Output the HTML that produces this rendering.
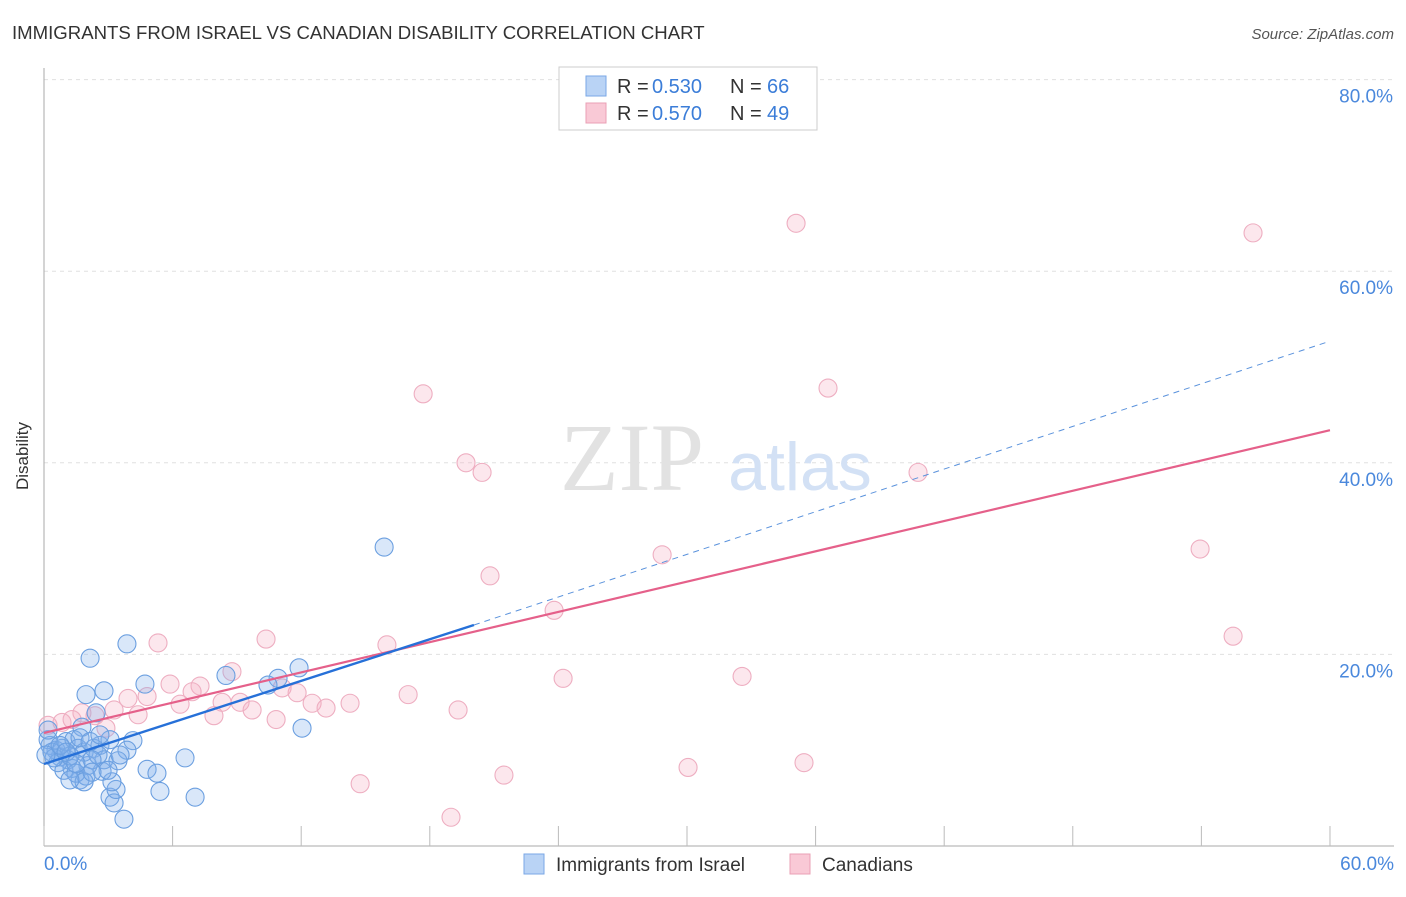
<!DOCTYPE html>
<html><head><meta charset="utf-8"><style>
body{margin:0;background:#fff;font-family:"Liberation Sans",sans-serif}
svg text{font-family:"Liberation Sans",sans-serif}
</style></head><body>
<svg id="chart" width="1406" height="892" xmlns="http://www.w3.org/2000/svg">
<text x="12" y="39" font-size="18.6" fill="#333">IMMIGRANTS FROM ISRAEL VS CANADIAN DISABILITY CORRELATION CHART</text>
<text x="1394" y="39" font-size="15" fill="#555" text-anchor="end" font-style="italic">Source: ZipAtlas.com</text>
<text x="28" y="456" font-size="17" fill="#333" text-anchor="middle" transform="rotate(-90 28 456)">Disability</text>
<g id="grid"></g>
<text x="632" y="490" font-size="96" fill="#e2e2e2" text-anchor="middle" style="font-family:'Liberation Serif',serif">ZIP</text>
<text x="800" y="490" font-size="68" fill="#d3e1f5" text-anchor="middle">atlas</text>
<g id="pts"></g>
<g id="lines"></g>
<g>
<rect x="559" y="67" width="258" height="63" fill="#fff" stroke="#ccc"/>
<rect x="586" y="76" width="20" height="20" fill="#b9d3f5" stroke="#7aa7e6"/>
<rect x="586" y="103" width="20" height="20" fill="#f9c9d6" stroke="#eaa0b5"/>
<text y="93" font-size="20" fill="#333"><tspan x="617">R =</tspan><tspan x="652" fill="#3b7dd8">0.530</tspan><tspan x="730">N =</tspan><tspan x="767" fill="#3b7dd8">66</tspan></text>
<text y="120" font-size="20" fill="#333"><tspan x="617">R =</tspan><tspan x="652" fill="#3b7dd8">0.570</tspan><tspan x="730">N =</tspan><tspan x="767" fill="#3b7dd8">49</tspan></text>
</g>
<g>
<rect x="524" y="854" width="20" height="20" fill="#b9d3f5" stroke="#7aa7e6"/>
<text x="556" y="871" font-size="19" fill="#333">Immigrants from Israel</text>
<rect x="790" y="854" width="20" height="20" fill="#f9c9d6" stroke="#eaa0b5"/>
<text x="822" y="871" font-size="19" fill="#333">Canadians</text>
</g>
</svg>
<script>
const xTicks=[0,60];
const yTicks=[20,40,60,80];
const blueX=[15.87,3.87,2.15,4.71,2.80,1.96,8.49,10.92,11.90,10.45,12.04,2.43,1.77,4.15,3.87,6.58,4.81,5.27,5.41,7.05,3.08,3.27,3.36,3.17,3.73,1.68,1.96,2.71,2.05,1.31,1.12,0.75,0.56,0.28,0.19,0.37,0.84,1.03,1.40,1.59,1.87,2.33,2.61,2.80,3.45,2.52,2.24,0.65,0.93,1.49,1.21,0.47,0.09,0.19,0.75,1.03,1.68,2.15,3.08,3.55,2.61,2.99,1.87,2.24,1.21,1.49];
const blueY=[31.2,21.1,19.6,16.9,16.2,15.8,17.8,17.5,18.6,16.8,12.3,13.9,12.4,11.0,10.0,9.2,8.0,7.6,5.7,5.1,5.1,4.5,5.9,6.7,2.8,6.9,7.3,7.8,8.4,8.1,9.0,9.3,10.0,10.5,11.1,9.8,10.2,10.9,11.1,10.2,9.8,10.2,10.5,9.0,8.9,9.5,9.0,8.7,7.9,7.6,9.4,9.2,9.5,12.1,10.5,9.8,11.3,10.9,11.1,9.5,11.6,7.9,6.7,7.7,6.9,8.6];
const pinkX=[35.09,56.41,17.69,36.58,19.69,20.44,40.78,53.94,28.84,20.81,23.80,55.48,10.36,5.32,16.0,8.77,24.22,32.57,5.88,7.28,3.92,4.81,6.91,16.99,11.81,11.11,6.35,8.31,9.15,12.51,14.28,13.16,19.32,3.27,4.39,7.93,9.71,10.83,2.38,1.77,0.84,1.31,2.89,0.19,14.75,21.46,30.05,35.46,18.99];
const pinkY=[65.0,64.0,47.2,47.8,40.0,39.0,39.0,31.0,30.4,28.2,24.6,21.9,21.6,21.2,21.0,18.2,17.5,17.7,16.9,16.7,15.4,15.6,16.1,15.8,16.0,16.5,14.8,15.0,15.0,14.9,14.9,14.4,14.2,14.2,13.7,13.6,14.2,13.2,13.6,13.9,12.9,13.2,12.3,12.6,6.5,7.4,8.2,8.7,3.0];
const blueTrend=[8.56,23.07,52.7];
const blueTrendX=[0,20.06,60];
const pinkTrend=[11.8,43.4];
const pinkTrendX=[0,60];
const NS='http://www.w3.org/2000/svg';
const sx=v=>44+v*21.433, sy=v=>846-v*9.58;
function mk(tag,attrs,parent){const e=document.createElementNS(NS,tag);for(const k in attrs)e.setAttribute(k,attrs[k]);parent.appendChild(e);return e;}
const grid=document.getElementById('grid');
yTicks.forEach(t=>{
 const l=mk('line',{x1:44,x2:1394,y1:sy(t),y2:sy(t),stroke:'#e0e0e0','stroke-dasharray':'4,4'},grid);
 
 
 const tx=mk('text',{x:1393,y:sy(t)+23,'font-size':19,fill:'#4a88dc','text-anchor':'end'},grid);
 tx.textContent=t.toFixed(1)+'%';
 
 
});
const ax=mk('line',{x1:44,x2:44,y1:68,y2:846,stroke:'#aaa'},grid);


const bx=mk('line',{x1:44,x2:1394,y1:846,y2:846,stroke:'#aaa'},grid);


for(let i=0;i<=10;i++){
 const t=mk('line',{x1:sx(i*6),x2:sx(i*6),y1:826,y2:846,stroke:'#bbb'},grid);
 
 
}
xTicks.forEach((t,i)=>{
 const tx=mk('text',{x:i==0?44:1394,y:870,'font-size':19,fill:'#4a88dc','text-anchor':i==0?'start':'end'},grid);
 tx.textContent=t.toFixed(1)+'%';
 
 
});
const pts=document.getElementById('pts');
pinkX.forEach((x,i)=>{
 const c=mk('circle',{cx:sx(x),cy:sy(pinkY[i]),r:9,fill:'rgba(246,175,196,0.3)',stroke:'#eeaec1','stroke-width':1.1},pts);
 
 
});
blueX.forEach((x,i)=>{
 const c=mk('circle',{cx:sx(x),cy:sy(blueY[i]),r:9,fill:'rgba(130,175,235,0.3)',stroke:'#6b9fe0','stroke-width':1.1},pts);
 
 
});
const lines=document.getElementById('lines');
const pl=mk('line',{x1:sx(pinkTrendX[0]),y1:sy(pinkTrend[0]),x2:sx(pinkTrendX[1]),y2:sy(pinkTrend[1]),stroke:'#e5608a','stroke-width':2.2},lines);


const bl=mk('line',{x1:sx(blueTrendX[0]),y1:sy(blueTrend[0]),x2:sx(blueTrendX[1]),y2:sy(blueTrend[1]),stroke:'#2670d8','stroke-width':2.4},lines);


const bd=mk('line',{x1:sx(blueTrendX[1]),y1:sy(blueTrend[1]),x2:sx(blueTrendX[2]),y2:sy(blueTrend[2]),stroke:'#5a92dc','stroke-width':1,'stroke-dasharray':'6,5'},lines);


</script>
</body></html>
